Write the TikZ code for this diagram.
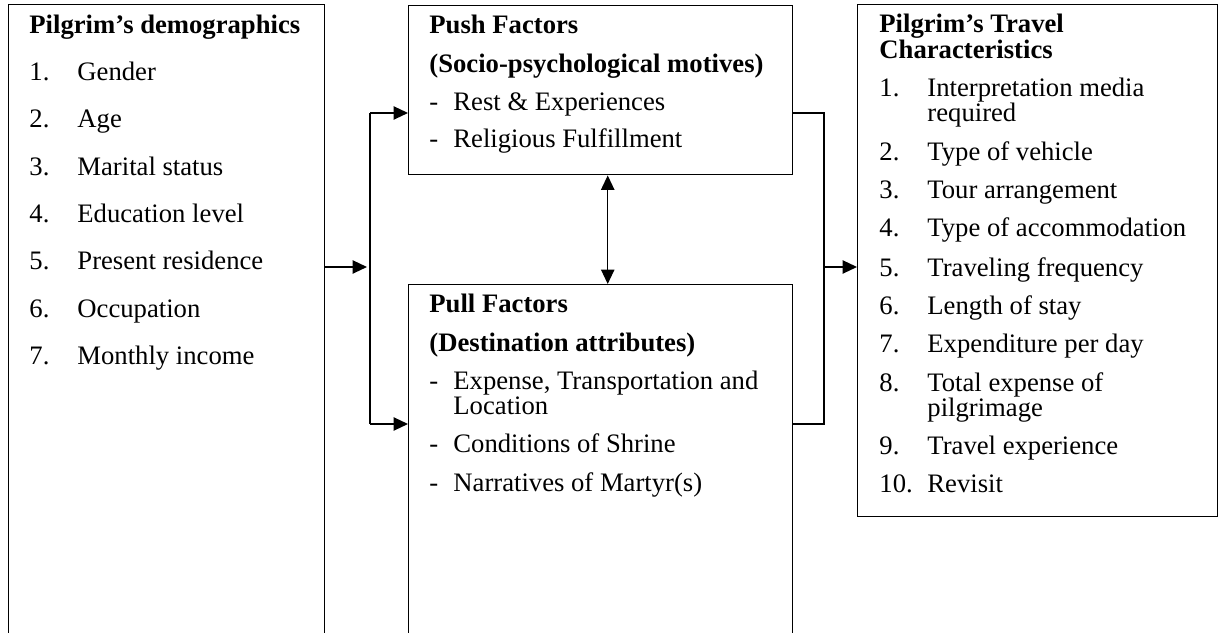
\documentclass[tikz,border=0pt]{standalone}
\usepackage{fontspec}
\setmainfont{Liberation Serif}
\usepackage{tikz}
\usetikzlibrary{
  arrows.meta,
  positioning
}
\newcommand{\itm}[2]{\makebox[21.6pt][l]{#1}#2}
\newcommand{\dsh}[1]{\makebox[10.8pt][l]{-}#1}

\begin{document}
\begin{tikzpicture}[
  x = 0.45pt, y = -0.45pt,
  box/.style = {
    rectangle, draw, line width=0.65pt, anchor=north west, inner sep=0pt
  },
  boxsize/.style 2 args = {minimum width=#1*0.45pt, minimum height=#2*0.45pt},
  txt/.style = {anchor=base west, inner sep=0pt, font=\fontsize{12}{11.5}\selectfont},
  hd/.style  = {txt, font=\fontsize{12}{11.5}\selectfont\bfseries},
  arr/.style = {-{Triangle[length=6.5pt, width=6pt]}, line width=0.65pt},
  dbl/.style = {{Triangle[length=6.5pt, width=6pt]}-{Triangle[length=6.5pt, width=6pt]}, line width=0.65pt},
  ln/.style  = {line width=0.65pt}
]
\useasboundingbox (0,0) rectangle (1224,633);
\clip (0,0) rectangle (1224,633);

% Boxes
\node[box, boxsize={316}{700}] (demo)   at (8,4)    {};
\node[box, boxsize={384}{169}] (push)   at (408,5)  {};
\node[box, boxsize={384}{400}] (pull)   at (408,284) {};
\node[box, boxsize={360}{512}] (travel) at (857,4)  {};

% Demographics
\node[hd]  (dhd) at (29,34)  {Pilgrim's demographics};
\node[txt] (d1)  at (29,81)  {\itm{1.}{Gender}};
\node[txt] (d2)  at (29,128) {\itm{2.}{Age}};
\node[txt] (d3)  at (29,176) {\itm{3.}{Marital status}};
\node[txt] (d4)  at (29,223) {\itm{4.}{Education level}};
\node[txt] (d5)  at (29,270) {\itm{5.}{Present residence}};
\node[txt] (d6)  at (29,318) {\itm{6.}{Occupation}};
\node[txt] (d7)  at (29,365) {\itm{7.}{Monthly income}};

% Push factors
\node[hd]  (phd)  at (429,34)  {Push Factors};
\node[hd]  (psub) at (429,73)  {(Socio-psychological motives)};
\node[txt] (p1)   at (429,111) {\dsh{Rest \& Experiences}};
\node[txt] (p2)   at (429,148) {\dsh{Religious Fulfillment}};

% Pull factors
\node[hd]  (qhd)  at (429,313) {Pull Factors};
\node[hd]  (qsub) at (429,352) {(Destination attributes)};
\node[txt] (q1)   at (429,390) {\dsh{Expense, Transportation and}};
\node[txt] (q1b)  at (453,415) {Location};
\node[txt] (q2)   at (429,453) {\dsh{Conditions of Shrine}};
\node[txt] (q3)   at (429,492) {\dsh{Narratives of Martyr(s)}};

% Travel characteristics
\node[hd]  (thd)  at (879,33)  {Pilgrim's Travel};
\node[hd]  (thdb) at (879,59)  {Characteristics};
\node[txt] (t1)   at (879,97)  {\itm{1.}{Interpretation media}};
\node[txt] (t1b)  at (927,122) {required};
\node[txt] (t2)   at (879,161) {\itm{2.}{Type of vehicle}};
\node[txt] (t3)   at (879,199) {\itm{3.}{Tour arrangement}};
\node[txt] (t4)   at (879,237) {\itm{4.}{Type of accommodation}};
\node[txt] (t5)   at (879,277) {\itm{5.}{Traveling frequency}};
\node[txt] (t6)   at (879,315) {\itm{6.}{Length of stay}};
\node[txt] (t7)   at (879,353) {\itm{7.}{Expenditure per day}};
\node[txt] (t8)   at (879,392) {\itm{8.}{Total expense of}};
\node[txt] (t8b)  at (927,417) {pilgrimage};
\node[txt] (t9)   at (879,455) {\itm{9.}{Travel experience}};
\node[txt] (t10)  at (879,493) {\itm{10.}{Revisit}};

% Bus points
\coordinate (lbus) at (370,267);
\coordinate (ltop) at (370,113);
\coordinate (lbot) at (370,424);
\coordinate (rbus) at (824,267);
\coordinate (rtop) at (824,113);
\coordinate (rbot) at (824,424);

% Left fork
\draw[arr, shorten >=1.35pt] (demo.east |- lbus) -- (lbus);
\draw[ln]  (ltop) -- (lbot);
\draw[arr] (ltop) -- (push.west |- ltop);
\draw[arr] (lbot) -- (pull.west |- lbot);

% Push <-> pull
\draw[dbl] ([xshift=3.15pt]push.south) -- ([xshift=3.15pt]push.south |- pull.north);

% Right join
\draw[ln]  (push.east |- rtop) -- (rtop) -- (rbot) -- (pull.east |- rbot);
\draw[arr] (rbus) -- (travel.west |- rbus);

\end{tikzpicture}
\end{document}
